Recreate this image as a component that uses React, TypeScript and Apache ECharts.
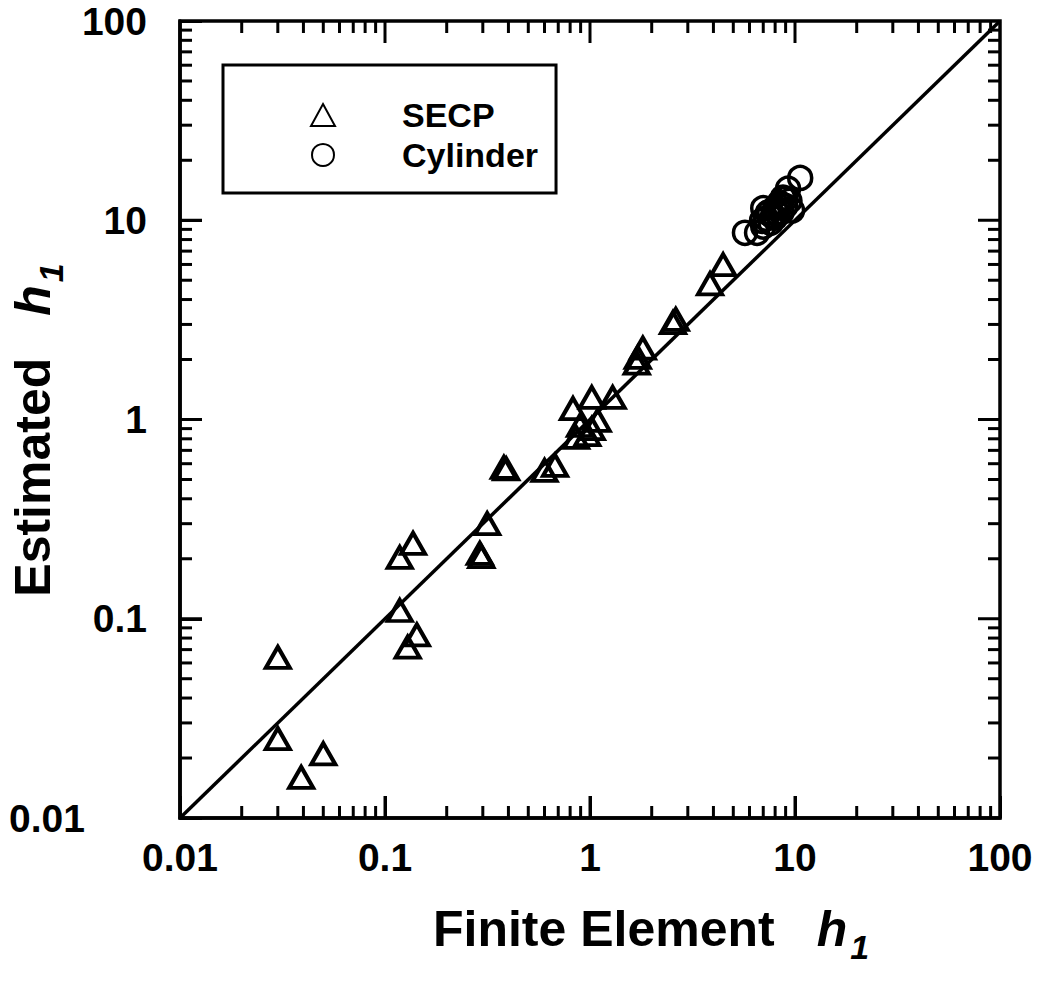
import React, { useEffect, useRef } from "react";
import * as echarts from "echarts";

// Axis tick labels (log decades)
const tickLabels = ["0.01", "0.1", "1", "10", "100"];
const majorTickValues = [0.1, 1, 10];
const minorTickValues = [
  0.02, 0.03, 0.04, 0.05, 0.06, 0.07, 0.08, 0.09,
  0.2, 0.3, 0.4, 0.5, 0.6, 0.7, 0.8, 0.9,
  2, 3, 4, 5, 6, 7, 8, 9,
  20, 30, 40, 50, 60, 70, 80, 90,
];

// SECP: finite element h1 vs estimated h1
const secpFE = [
  0.03, 0.03, 0.039, 0.05, 0.118, 0.143, 0.129, 0.118, 0.137, 0.29, 0.295,
  0.315, 0.38, 0.39, 0.6, 0.675, 0.826, 1.02, 1.29, 0.894, 1.02, 0.855, 1.09,
  0.97, 1.71, 1.81, 1.69, 2.54, 2.62, 3.85, 4.46,
];
const secpEst = [
  0.064, 0.025, 0.016, 0.021, 0.11, 0.083, 0.072, 0.203, 0.239, 0.213, 0.205,
  0.3, 0.575, 0.565, 0.555, 0.588, 1.135, 1.29, 1.29, 0.933, 0.9, 0.813, 0.99,
  0.84, 2.05, 2.28, 1.92, 3.06, 3.18, 4.8, 5.98,
];

// Cylinder
const cylFE = [
  5.7, 6.53, 6.9, 7.38, 7.81, 8.26, 8.74, 9.25, 9.67, 8.97, 10.6, 7.6, 7.0, 8.0,
  9.4, 7.2, 7.5, 8.0, 8.4, 8.2, 7.0, 8.6, 9.0,
];
const cylEst = [
  8.65, 8.65, 9.94, 10.9, 10.5, 11.8, 13.0, 14.4, 11.2, 11.8, 16.3, 9.7, 11.5, 10.3,
  12.5, 10.2, 11.0, 11.5, 12.2, 10.8, 9.3, 11.0, 12.8,
];

// Line of equality
const equalityLine = [0.01, 100];

const FONT = "Liberation Sans";

export default function App() {
  const ref = useRef<HTMLDivElement>(null);

  useEffect(() => {
    const chart = echarts.init(ref.current!, null, { renderer: "svg" });

    const labelFor = (v: number) => tickLabels[Math.round(Math.log10(v)) + 2] ?? "";

    const tickSeries = (values: number[], dir: "x" | "y", len: number) => ({
      type: "custom",
      silent: true,
      clip: false,
      z: 5,
      data: values.map((v) => (dir === "x" ? [v, 1] : [1, v])),
      renderItem: (params: any, api: any) => {
        const style = { stroke: "#000", lineWidth: 3 };
        if (dir === "x") {
          const v = api.value(0);
          const b = api.coord([v, 0.01]);
          const t = api.coord([v, 100]);
          return {
            type: "group",
            children: [
              { type: "line", shape: { x1: b[0], y1: b[1], x2: b[0], y2: b[1] - len }, style },
              { type: "line", shape: { x1: t[0], y1: t[1], x2: t[0], y2: t[1] + len }, style },
            ],
          };
        }
        const v = api.value(1);
        const l = api.coord([0.01, v]);
        const r = api.coord([100, v]);
        return {
          type: "group",
          children: [
            { type: "line", shape: { x1: l[0], y1: l[1], x2: l[0] + len, y2: l[1] }, style },
            { type: "line", shape: { x1: r[0], y1: r[1], x2: r[0] - len, y2: r[1] }, style },
          ],
        };
      },
    });

    const axisCommon = {
      type: "log",
      logBase: 10,
      min: 0.01,
      max: 100,
      axisLine: { show: true, lineStyle: { color: "#000", width: 3.5 } },
      axisTick: { show: true, inside: true, length: 22, lineStyle: { color: "#000", width: 3 } },
      splitLine: { show: false },
    };

    const titleRich = {
      a: { fontSize: 50, fontWeight: "bold", fontFamily: FONT, fill: "#000", lineHeight: 70 },
      h: { fontSize: 50, fontWeight: "bold", fontStyle: "italic", fontFamily: FONT, fill: "#000", lineHeight: 70, padding: [0, 0, 0, 42] },
      s: { fontSize: 34, fontWeight: "bold", fontStyle: "italic", fontFamily: FONT, fill: "#000", lineHeight: 24, verticalAlign: "bottom", padding: [0, 0, 0, 3] },
    };

    chart.setOption({
      animation: false,
      backgroundColor: "#fff",
      grid: {
        left: 180,
        right: 44,
        top: 21,
        bottom: 165,
        show: true,
        borderColor: "#000",
        borderWidth: 3.5,
        backgroundColor: "transparent",
      },
      xAxis: {
        ...axisCommon,
        axisLabel: {
          fontSize: 39,
          fontWeight: "bold",
          fontFamily: FONT,
          color: "#000",
          margin: 20,
          showMinLabel: true,
          showMaxLabel: true,
          formatter: (v: number) => labelFor(v),
        },
      },
      yAxis: {
        ...axisCommon,
        axisLabel: {
          fontSize: 39,
          fontWeight: "bold",
          fontFamily: FONT,
          color: "#000",
          margin: 33,
          showMinLabel: true,
          showMaxLabel: true,
          formatter: (v: number) => {
            const s = labelFor(v);
            return s === "0.01" ? "{low|" + s + "}" : s;
          },
          rich: {
            low: { fontSize: 39, fontWeight: "bold", fontFamily: FONT, color: "#000", padding: [0, 62, 0, 0] },
          },
        },
      },
      legend: {
        orient: "vertical",
        left: 223,
        top: 65,
        data: ["SECP", "Cylinder"],
        itemWidth: 24,
        itemHeight: 22,
        itemGap: 4,
        padding: [32, 18, 20, 87],
        borderColor: "#000",
        borderWidth: 3,
        backgroundColor: "#fff",
        selectedMode: false,
        textStyle: {
          fontSize: 34,
          fontWeight: "bold",
          fontFamily: FONT,
          color: "#000",
          lineHeight: 36,
          padding: [0, 0, 0, 62],
        },
      },
      graphic: [
        {
          type: "text",
          x: 433,
          y: 929,
          style: {
            text: "{a|Finite Element}{h|h}{s|1}",
            align: "left",
            verticalAlign: "middle",
            rich: titleRich,
          },
        },
        {
          type: "text",
          x: 33,
          y: 430,
          rotation: Math.PI / 2,
          style: {
            text: "{a|Estimated}{h|h}{s|1}",
            align: "center",
            verticalAlign: "middle",
            rich: titleRich,
          },
        },
      ],
      series: [
        {
          name: "equality",
          type: "line",
          data: equalityLine.map((v) => [v, v]),
          showSymbol: false,
          symbol: "none",
          lineStyle: { color: "#000", width: 3.5 },
          silent: true,
          z: 1,
        },
        tickSeries(minorTickValues, "x", 12),
        tickSeries(minorTickValues, "y", 12),
        tickSeries(majorTickValues, "x", 22),
        tickSeries(majorTickValues, "y", 22),
        {
          name: "SECP",
          type: "scatter",
          symbol: "triangle",
          symbolSize: [24, 21],
          data: secpFE.map((x, i) => [x, secpEst[i]]),
          itemStyle: { color: "rgba(255,255,255,0)", borderColor: "#000", borderWidth: 4, opacity: 1 },
          z: 3,
        },
        {
          name: "Cylinder",
          type: "scatter",
          symbol: "circle",
          symbolSize: 23,
          data: cylFE.map((x, i) => [x, cylEst[i]]),
          itemStyle: { color: "rgba(255,255,255,0)", borderColor: "#000", borderWidth: 3.5, opacity: 1 },
          z: 3,
        },
      ],
    });

    return () => chart.dispose();
  }, []);

  return (
    <div
      ref={ref}
      style={{ position: "fixed", left: 0, top: 0, width: 1044, height: 983, background: "#fff" }}
    />
  );
}
